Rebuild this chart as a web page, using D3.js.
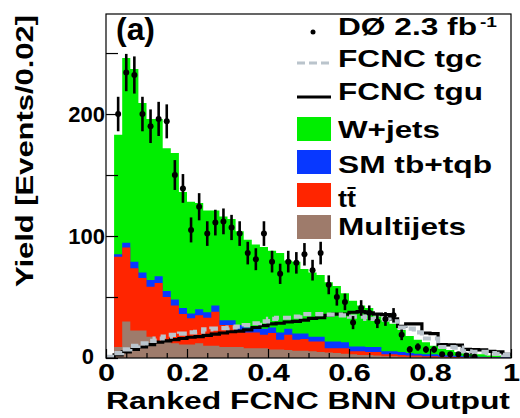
<!DOCTYPE html>
<html><head><meta charset="utf-8">
<script src="https://cdn.jsdelivr.net/npm/d3@7"></script>
<style>
html,body{margin:0;padding:0;background:#fff;}
svg{display:block;font-family:"Liberation Sans",Arial,sans-serif;font-weight:bold;}
</style></head><body>
<svg id="c" width="520" height="418"></svg>
<script>
// ---------- data (bins of width 0.02) ----------
const binLow = [0,0.02,0.04,0.06,0.08,0.10,0.12,0.14,0.16,0.18,
  0.20,0.22,0.24,0.26,0.28,0.30,0.32,0.34,0.36,0.38,
  0.40,0.42,0.44,0.46,0.48,0.50,0.52,0.54,0.56,0.58,
  0.60,0.62,0.64,0.66,0.68,0.70,0.72,0.74,0.76,0.78,
  0.80,0.82,0.84,0.86,0.88,0.90,0.92,0.94,0.96,0.98];
const binWidth = 0.02;
const multijets = [1.5,9,30,22.5,22.5,17.5,14,14,12,11, 11,12,10,10,9,9,9,8,8,8,
  7,7,6.5,6,6,5.5,5,4.5,4,3.5, 3,2.5,2.5,2,1.5,1.5,1,1,1,0.5, 0.5,0.5,0.3,0.3,0.2,0.2,0.2,0.1,0.1,0.1];
const ttbar = [0.3,74,60.5,51,43,41,47.5,36,31,25, 21.5,23,23,28,18,18,14,13,13,11,
  13.5,8,12.5,9,9.5,8,8.5,3.5,4,4.5, 2.5,3,2.5,3,1.5,1.5,1.5,1,1,1, 1,0.5,0.7,0.5,0.4,0.3,0.3,0.3,0.2,0.2];
const smTop = [0.2,2,4,5.5,4.5,5.5,5.5,5,5,5, 4,5,4.5,5,4,4,4,4,4,5,
  4.5,6,5,5,4.5,4,4,5.5,5.5,5, 4,4,4,4,2.5,2.5,2.5,2,1.5,1.5, 1.5,1.5,1,1,0.9,0.7,0.5,0.4,0.4,0.3];
const wjets = [0.3,98,151.5,158,139,132,129,117,120,95, 91.5,87,83.5,78,85,83,77,72,68,67,
  63,65,56,59,53,52.5,50.5,48.5,45.5,40, 37.5,33.5,32,25,25.5,22.5,18,14,11.5,10, 7,5.5,4.5,3.2,2.5,1.8,2,1.2,1.3,0.9];
const dataCounts = [0,200,234,232,200,190,196,194,150,139, 105,124,102,111,112,107,102,86,81,102,
  79,69,79,78,85,72,86,60,50,46, 29,41,37,30,32,35,19,7,9,7, 7,3,3,3,2,1,0,0,0,0];
const fcncTgc = [1,4,7,10,12,14,16,17.5,19,20, 21,21.5,23.5,24,24.5,25,25.7,27,28.5,30,
  32,33,33,34,36,36,36,35.5,35.5,35, 34,34,32,32,31.5,30,25,24,21,16, 16,9,9,8.5,5.5,5,5,4,3.5,2.5];
const fcncTgu = [0.5,2.5,5,7,9,11,13,14,15,16, 17,17.5,18.5,19.5,20.5,21.5,22,23,25,26.5,
  28,28.5,29.5,30,31,32.5,33,35,36,36, 37.5,38,37,36,35.5,32,26,28,28,20.5, 20,11,10.7,10.5,7,6.8,6.6,5.5,5,3];
const xMajorTicks = [0,0.2,0.4,0.6,0.8,1];
const xMinorTicks = [0.05,0.1,0.15,0.25,0.3,0.35,0.45,0.5,0.55,0.65,0.7,0.75,0.85,0.9,0.95];
const yTicks = [0,50,100,150,200,250];
const yLabelled = [100,200];
const seriesKeys = ["mj","tt","tb","w"];
const seriesColors = {mj:"#9e7b6b", tt:"#ff2500", tb:"#0838ff", w:"#00ee00"};

// ---------- layout ----------
const L = 106, R = 511, T = 14, B = 358;
const svg = d3.select("#c");
const x = d3.scaleLinear().domain([0,1]).range([L,R]);
const y = d3.scaleLinear().domain([0,282]).range([B,T]);

const table = binLow.map((lo,i)=>({lo, hi: lo+binWidth, mj:multijets[i], tt:ttbar[i], tb:smTop[i], w:wjets[i]}));
const stacked = d3.stack().keys(seriesKeys)(table);

svg.append("clipPath").attr("id","clip").append("rect")
  .attr("x",L).attr("y",T).attr("width",R-L).attr("height",B-T);
const plot = svg.append("g").attr("clip-path","url(#clip)");

// cumulative areas from 0, drawn largest first to avoid seams
const area = d3.area().x(d=>x(d.x)).y0(y(0)).y1(d=>y(d.v));
stacked.slice().reverse().forEach(layer=>{
  const pts = [];
  layer.forEach((d,i)=>{ pts.push({x:table[i].lo, v:d[1]}); pts.push({x:table[i].hi, v:d[1]}); });
  plot.append("path").attr("d",area(pts)).attr("fill",seriesColors[layer.key]);
});

// FCNC step lines
const stepPts = vals => { const p=[]; vals.forEach((v,i)=>{p.push([x(binLow[i]),y(v)]); p.push([x(binLow[i]+binWidth),y(v)]);}); return p; };
const line = d3.line();
plot.append("path").attr("d",line(stepPts(fcncTgu))).attr("fill","none")
  .attr("stroke","#000").attr("stroke-width",3.2);
plot.append("path").attr("d",line(stepPts(fcncTgc))).attr("fill","none")
  .attr("stroke","#bac4cc").attr("stroke-width",4.2).attr("stroke-dasharray","8,4");

// data points with sqrt(N) errors
const pts = dataCounts.map((n,i)=>({c:binLow[i]+binWidth/2, n})).filter(d=>d.n>0);
plot.selectAll("line.err").data(pts).join("line").attr("class","err")
  .attr("x1",d=>x(d.c)).attr("x2",d=>x(d.c))
  .attr("y1",d=>y(d.n+Math.sqrt(d.n))).attr("y2",d=>y(Math.max(0,d.n-Math.sqrt(d.n))))
  .attr("stroke","#000").attr("stroke-width",2.6);
plot.selectAll("circle.pt").data(pts).join("circle").attr("class","pt")
  .attr("cx",d=>x(d.c)).attr("cy",d=>y(d.n)).attr("r",3).attr("fill","#000");

// ---------- axes ----------
const gxMinor = svg.append("g").attr("transform",`translate(0,${B})`)
  .call(d3.axisBottom(x).tickValues(xMinorTicks).tickSize(-5).tickFormat(""));
const gxMajor = svg.append("g").attr("transform",`translate(0,${B})`)
  .call(d3.axisBottom(x).tickValues(xMajorTicks).tickSize(-9).tickPadding(6)
    .tickFormat(d=> d===0?"0":(d===1?"1":d3.format(".1f")(d))));
gxMajor.selectAll("text").attr("font-size",24).attr("font-family","Liberation Sans, Arial, sans-serif")
  .attr("font-weight","bold").attr("fill","#000").attr("transform","scale(1.28,1)");
const gy = svg.append("g").attr("transform",`translate(${L},0)`)
  .call(d3.axisLeft(y).tickValues(yTicks).tickSize(-12).tickPadding(1)
    .tickFormat(d=> yLabelled.includes(d)? d : ""));
gy.selectAll("text").attr("font-size",22).attr("font-family","Liberation Sans, Arial, sans-serif")
  .attr("font-weight","bold").attr("fill","#000").attr("dy","0.36em");
[gxMinor,gxMajor,gy].forEach(g=>{ g.select(".domain").remove(); g.selectAll(".tick line").attr("stroke","#000").attr("stroke-width",1.2); });
svg.append("text").attr("x",94).attr("y",364).attr("text-anchor","end").attr("font-size",22).text("0");

svg.append("rect").attr("x",L).attr("y",T).attr("width",R-L).attr("height",B-T)
  .attr("fill","none").attr("stroke","#000").attr("stroke-width",1.2);

// ---------- titles ----------
svg.append("text").attr("x",106).attr("y",409).attr("font-size",24.5)
  .attr("textLength",404).attr("lengthAdjust","spacingAndGlyphs").text("Ranked FCNC BNN Output");
svg.append("text").attr("transform","translate(33,151) rotate(-90)").attr("text-anchor","middle")
  .attr("font-size",24.5).attr("textLength",272).attr("lengthAdjust","spacingAndGlyphs").text("Yield [Events/0.02]");
svg.append("text").attr("x",116).attr("y",40).attr("font-size",31)
  .attr("textLength",39).attr("lengthAdjust","spacingAndGlyphs").text("(a)");

// ---------- legend ----------
const lg = svg.append("g");
lg.append("circle").attr("cx",313).attr("cy",32).attr("r",2.5).attr("fill","#000");
lg.append("line").attr("x1",297).attr("x2",331).attr("y1",63).attr("y2",63)
  .attr("stroke","#bac4cc").attr("stroke-width",3).attr("stroke-dasharray","8,4");
lg.append("line").attr("x1",297).attr("x2",331).attr("y1",97).attr("y2",97)
  .attr("stroke","#000").attr("stroke-width",3);
const boxes = [["w",117],["tb",150],["tt",183],["mj",215]];
boxes.forEach(([k,yy])=> lg.append("rect").attr("x",297).attr("y",yy).attr("width",34).attr("height",24).attr("fill",seriesColors[k]));
const entries = [["DØ 2.3 fb",35,139],["FCNC tgc",67,144],["FCNC tgu",100,145],["W+jets",138,102],
  ["SM tb+tqb",173,154],["tt\u0304",207,18],["Multijets",235,128]];
entries.forEach(([t,yy,w])=> lg.append("text").attr("x",338).attr("y",yy).attr("font-size",24)
  .attr("textLength",w).attr("lengthAdjust","spacingAndGlyphs").text(t));
lg.append("text").attr("x",480).attr("y",27).attr("font-size",15).attr("textLength",17)
  .attr("lengthAdjust","spacingAndGlyphs").text("-1");
</script></body></html>
